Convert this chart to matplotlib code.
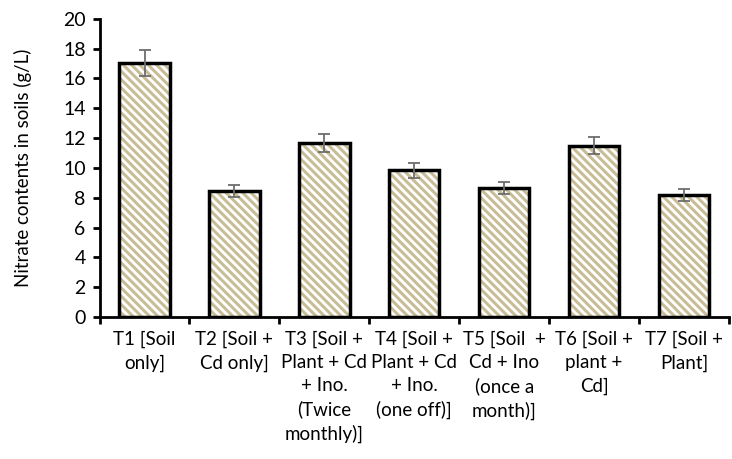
import numpy as np
import matplotlib
matplotlib.use("Agg")
import matplotlib.pyplot as plt

categories = [
    "T1 [Soil\nonly]",
    "T2 [Soil +\nCd only]",
    "T3 [Soil +\nPlant + Cd\n+ Ino.\n(Twice\nmonthly)]",
    "T4 [Soil +\nPlant + Cd\n+ Ino.\n(one off)]",
    "T5 [Soil  +\nCd + Ino\n(once a\nmonth)]",
    "T6 [Soil +\nplant +\nCd]",
    "T7 [Soil +\nPlant]",
]
nitrate = [17.05, 8.45, 11.65, 9.85, 8.65, 11.5, 8.2]
errors = [0.85, 0.4, 0.6, 0.5, 0.42, 0.58, 0.4]
y_ticks = list(range(0, 21, 2))

plt.rcParams['font.family'] = ['Lato', 'DejaVu Sans']
plt.rcParams['hatch.linewidth'] = 2.2

fig = plt.figure(figsize=(7.32, 4.59), dpi=100)
ax = fig.add_axes([0.136, 0.309, 0.86, 0.65])

x = np.arange(len(categories))
# hatch layer in tan, then black outline on top
ax.bar(x, nitrate, width=0.56, color="white", edgecolor="#c8bd96",
       hatch="\\\\\\\\", linewidth=0, zorder=2)
ax.bar(x, nitrate, width=0.56, fill=False, edgecolor="black",
       linewidth=2.5, zorder=3)
ax.errorbar(x, nitrate, yerr=errors, fmt="none", ecolor="#6d6d6d",
            elinewidth=1.3, capsize=4.5, capthick=1.3, zorder=4)

ax.set_xlim(-0.5, len(categories) - 0.5)
ax.set_ylim(0, 20)
ax.set_yticks(y_ticks)
ax.set_xticks(x)
ax.set_xticklabels(categories, fontsize=13.5, linespacing=1.42)
ax.set_xticks(np.arange(-0.5, len(categories)), minor=True)
ax.tick_params(axis="x", which="major", length=0, pad=10)
ax.tick_params(axis="x", which="minor", length=5, width=2, direction="out")
ax.tick_params(axis="y", length=5, width=2, direction="out", labelsize=14, pad=5)

for s in ["top", "right"]:
    ax.spines[s].set_visible(False)
for s in ["left", "bottom"]:
    ax.spines[s].set_linewidth(2)

ax.set_ylabel("Nitrate contents in soils (g/L)", fontsize=13.5, labelpad=22)

fig.savefig("out.png", dpi=100)
